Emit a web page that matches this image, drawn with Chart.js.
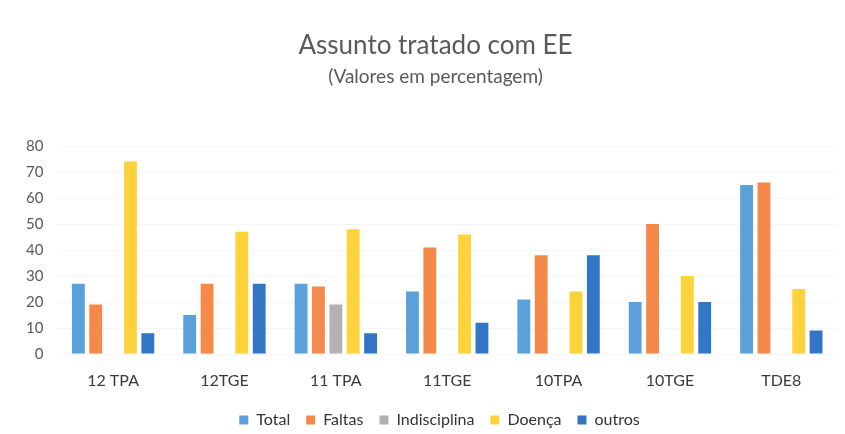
<!DOCTYPE html>
<html>
<head>
<meta charset="utf-8">
<script src="https://cdn.jsdelivr.net/npm/chart.js@4"></script>
<style>
  body { margin: 0; background: #fff; }
  #wrap { width: 845px; height: 434px; }
</style>
</head>
<body>
<div id="wrap"><canvas id="chart" width="845" height="434"></canvas></div>
<script>
// Chart data
const categories = ['12 TPA', '12TGE', '11 TPA', '11TGE', '10TPA', '10TGE', 'TDE8'];
const total = [27, 15, 27, 24, 21, 20, 65];
const faltas = [19, 27, 26, 41, 38, 50, 66];
const indisciplina = [0, 0, 19, 0, 0, 0, 0];
const doenca = [74, 47, 48, 46, 24, 30, 25];
const outros = [8, 27, 8, 12, 38, 20, 9];
const yTicks = [0, 10, 20, 30, 40, 50, 60, 70, 80];

// titles and legend sit a bit right of the canvas centre in the original
const shiftBlocks = {
    id: 'shiftBlocks',
    afterLayout(chart) {
        chart.boxes.forEach(box => {
            let dx = 0;
            if (box === chart.legend) dx = 15;
            else if (box.options && box.options.text) dx = 11;
            box.left += dx;
            box.right += dx;
        });
    }
};

const ctx = document.getElementById('chart').getContext('2d');

new Chart(ctx, {
    type: 'bar',
    data: {
        labels: categories,
        datasets: [
            { label: 'Total', data: total, backgroundColor: '#5aa0da' },
            { label: 'Faltas', data: faltas, backgroundColor: '#f4894a' },
            { label: 'Indisciplina', data: indisciplina, backgroundColor: '#b2b2b2' },
            { label: 'Doença', data: doenca, backgroundColor: '#fdd23a' },
            { label: 'outros', data: outros, backgroundColor: '#3276c6' }
        ]
    },
    plugins: [shiftBlocks],
    options: {
        responsive: false,
        animation: false,
        layout: { padding: { left: 12, right: 8, top: 30, bottom: -4 } },
        datasets: {
            bar: { barPercentage: 0.74, categoryPercentage: 0.78 }
        },
        scales: {
            x: {
                grid: { display: false },
                border: { display: false },
                ticks: { color: '#3a3a3a', font: { family: 'Lato', size: 16 }, padding: 9 },
                // leave room between the labels and the legend
                afterFit: scale => { scale.height = 42; }
            },
            y: {
                min: 0,
                max: 80,
                afterBuildTicks: axis => { axis.ticks = yTicks.map(v => ({ value: v })); },
                grid: { color: '#f5f5f5', drawTicks: false },
                border: { display: false },
                ticks: { color: '#5a5a5a', font: { family: 'Lato', size: 15 }, padding: 14 }
            }
        },
        plugins: {
            title: {
                display: true,
                text: 'Assunto tratado com EE',
                color: '#5a5a5a',
                font: { family: 'Lato', size: 26, weight: 'normal' },
                padding: { top: 0, bottom: 4 }
            },
            subtitle: {
                display: true,
                text: '(Valores em percentagem)',
                color: '#5a5a5a',
                font: { family: 'Lato', size: 19 },
                padding: { bottom: 58 }
            },
            legend: {
                position: 'bottom',
                labels: {
                    color: '#333',
                    font: { family: 'Lato', size: 16 },
                    boxWidth: 9,
                    boxHeight: 9,
                    padding: 16
                }
            },
            tooltip: { enabled: false }
        }
    }
});
</script>
</body>
</html>
